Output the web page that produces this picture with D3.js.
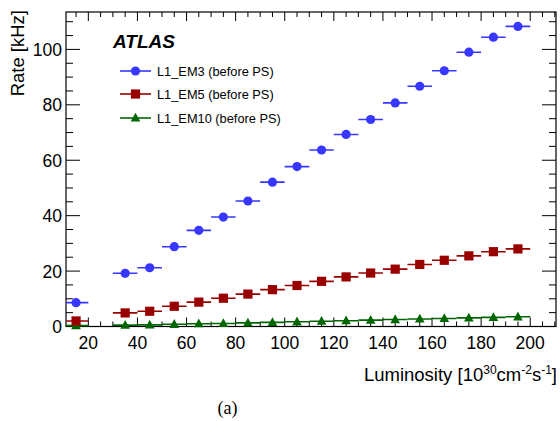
<!DOCTYPE html>
<html><head><meta charset="utf-8">
<script src="https://cdn.jsdelivr.net/npm/d3@7"></script>
<style>body{margin:0;background:#fff}svg{display:block}</style>
</head><body>
<svg id="c" width="560" height="421"></svg>
<script>
const lumi = [15,35,45,55,65,75,85,95,105,115,125,135,145,155,165,175,185,195];
const binHalf = 5;
const em3 = [8.6,19.2,21.2,28.8,34.7,39.5,45.3,52.1,57.7,63.7,69.3,74.7,80.7,86.7,92.3,99.0,104.4,108.3];
const em5 = [2.0,4.9,5.5,7.3,8.8,10.2,11.7,13.3,14.8,16.3,17.9,19.3,20.7,22.4,23.9,25.5,27.0,28.0];
const em10 = [0.3,0.5,0.6,0.8,1.0,1.1,1.3,1.5,1.7,1.9,2.1,2.3,2.5,2.7,2.9,3.1,3.3,3.5];
const seriesNames = ["L1_EM3 (before PS)","L1_EM5 (before PS)","L1_EM10 (before PS)"];
const xTicks = [20,40,60,80,100,120,140,160,180,200];
const yTicks = [0,20,40,60,80,100];

const svg = d3.select("#c");
const L=66, R=556, T=12, B=326.5;
const x = d3.scaleLinear().domain([10.9,210.5]).range([L,R]);
const y = d3.scaleLinear().domain([0,113.5]).range([B,T]);
const font = "'Liberation Sans', Arial, sans-serif";

// frame
svg.append("rect").attr("x",L).attr("y",T).attr("width",R-L).attr("height",B-T)
  .attr("fill","none").attr("stroke","#000").attr("stroke-width",1.2);

// ticks
const xMinor = d3.range(15,211,5);
const g = svg.append("g").attr("stroke","#000").attr("stroke-width",1);
xMinor.forEach(v=>{
  const major = v%20===0;
  const len = major?9:5;
  g.append("line").attr("x1",x(v)).attr("x2",x(v)).attr("y1",B).attr("y2",B-len);
  g.append("line").attr("x1",x(v)).attr("x2",x(v)).attr("y1",T).attr("y2",T+len);
});
const yMinor = d3.range(0,113.5,5);
yMinor.forEach(v=>{
  const major = v%20===0;
  const len = major?14:7;
  g.append("line").attr("y1",y(v)).attr("y2",y(v)).attr("x1",L).attr("x2",L+len);
  g.append("line").attr("y1",y(v)).attr("y2",y(v)).attr("x1",R).attr("x2",R-len);
});

// tick labels
svg.append("g").selectAll("text").data(xTicks).join("text")
  .attr("x",d=>x(d)).attr("y",B+22).attr("text-anchor","middle")
  .attr("font-family",font).attr("font-size",17.5).text(d=>d);
svg.append("g").selectAll("text").data(yTicks).join("text")
  .attr("x",L-4).attr("y",d=>y(d)+6.5).attr("text-anchor","end")
  .attr("font-family",font).attr("font-size",17.5).text(d=>d);

// axis titles
svg.append("text").attr("transform",`translate(24,10) rotate(-90)`)
  .attr("text-anchor","end").attr("font-family",font).attr("font-size",18.5).text("Rate [kHz]");
const xt = svg.append("text").attr("x",557).attr("y",381).attr("text-anchor","end")
  .attr("font-family",font).attr("font-size",18.5);
xt.append("tspan").text("Luminosity [10");
xt.append("tspan").attr("dy",-7).attr("font-size",12).text("30");
xt.append("tspan").attr("dy",7).text("cm");
xt.append("tspan").attr("dy",-7).attr("font-size",12).text("-2");
xt.append("tspan").attr("dy",7).text("s");
xt.append("tspan").attr("dy",-7).attr("font-size",12).text("-1");
xt.append("tspan").attr("dy",7).text("]");

svg.append("text").attr("x",227.5).attr("y",414).attr("text-anchor","middle")
  .attr("font-family","'Liberation Serif', 'Times New Roman', serif").attr("font-size",18).text("(a)");

// data
const series = [
  {vals:em3,color:"#3737ff",shape:"circle"},
  {vals:em5,color:"#990000",shape:"square"},
  {vals:em10,color:"#006600",shape:"triangle"}
];
function marker(sel, shape, color){
  if(shape==="circle") sel.append("circle").attr("r",4.6).attr("fill",color);
  else if(shape==="square") sel.append("rect").attr("x",-4.6).attr("y",-4.6).attr("width",9.2).attr("height",9.2).attr("fill",color);
  else sel.append("path").attr("d","M0,-5.2L4.8,3.6L-4.8,3.6Z").attr("fill",color);
}
svg.append("clipPath").attr("id","clp").append("rect")
  .attr("x",L).attr("y",T).attr("width",R-L).attr("height",B-T+6);
const dataG = svg.append("g").attr("clip-path","url(#clp)");
[...series].reverse().forEach(s=>{
  const gs = dataG.append("g");
  gs.selectAll("line").data(lumi).join("line")
    .attr("x1",(d)=>x(d-binHalf)).attr("x2",d=>x(d+binHalf))
    .attr("y1",(d,i)=>y(s.vals[i])).attr("y2",(d,i)=>y(s.vals[i]))
    .attr("stroke",s.color).attr("stroke-width",1.6);
  lumi.forEach((d,i)=>{
    const m = gs.append("g").attr("transform",`translate(${x(d)},${y(s.vals[i])})`);
    marker(m,s.shape,s.color);
  });
});

// ATLAS + legend
svg.append("text").attr("x",113).attr("y",48).attr("font-family",font)
  .attr("font-size",19).attr("font-weight","bold").attr("font-style","italic").text("ATLAS");
const legY = [71,94,118];
series.forEach((s,i)=>{
  const lg = svg.append("g").attr("transform",`translate(0,${legY[i]})`);
  lg.append("line").attr("x1",120).attr("x2",151).attr("y1",0).attr("y2",0)
    .attr("stroke",s.color).attr("stroke-width",1.6);
  const m = lg.append("g").attr("transform","translate(135.5,0)");
  marker(m,s.shape,s.color);
  lg.append("text").attr("x",157).attr("y",4.5).attr("font-family",font)
    .attr("font-size",12.8).text(seriesNames[i]);
});
</script>
</body></html>
